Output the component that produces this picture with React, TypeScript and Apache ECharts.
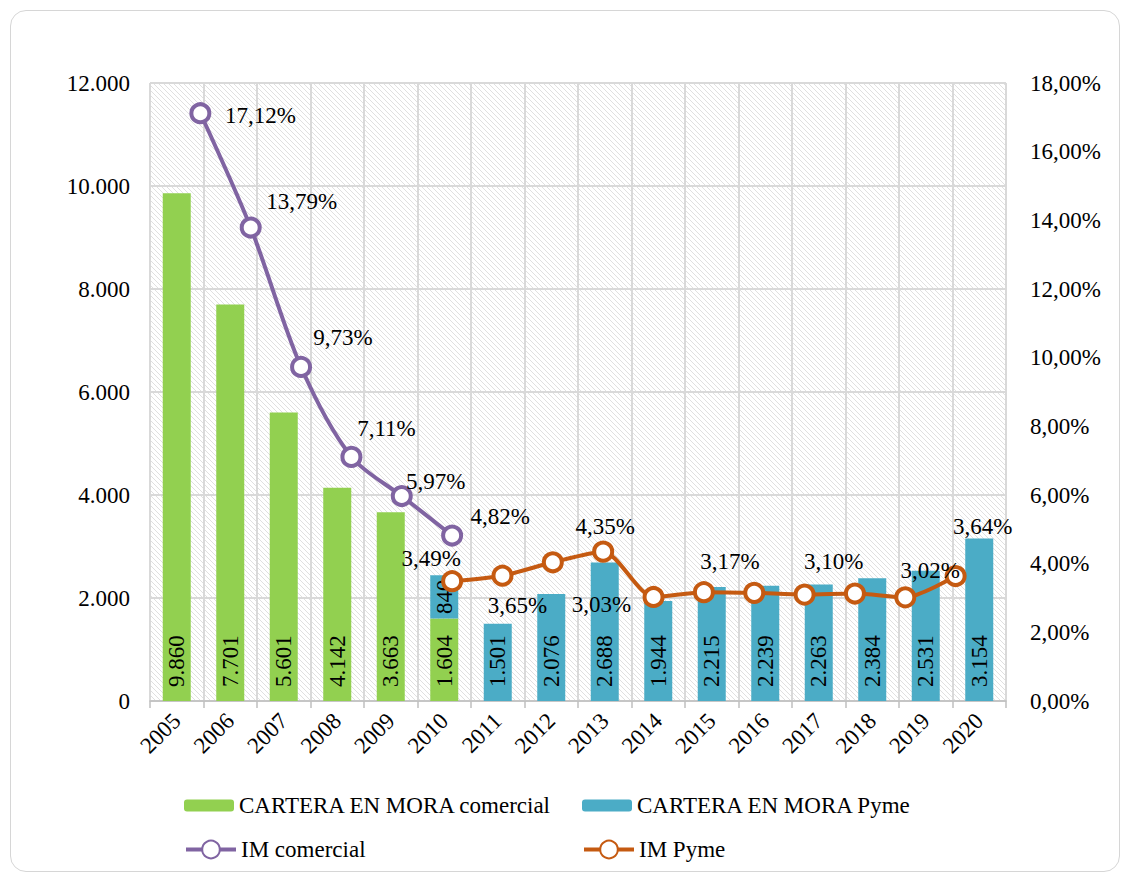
import React, { useEffect, useRef } from "react";
import * as echarts from "echarts";

const years = ["2005", "2006", "2007", "2008", "2009", "2010", "2011", "2012", "2013", "2014", "2015", "2016", "2017", "2018", "2019", "2020"];
const carteraComercial: (number | null)[] = [9860, 7701, 5601, 4142, 3663, 1604, null, null, null, null, null, null, null, null, null, null];
const carteraPyme: (number | null)[] = [null, null, null, null, null, 840, 1501, 2076, 2688, 1944, 2215, 2239, 2263, 2384, 2531, 3154];
const imComercial: (number | null)[] = [17.12, 13.79, 9.73, 7.11, 5.97, 4.82, null, null, null, null, null, null, null, null, null, null];
const imPyme: (number | null)[] = [null, null, null, null, null, 3.49, 3.65, 4.04, 4.35, 3.03, 3.17, 3.15, 3.1, 3.13, 3.02, 3.64];

const leftAxis = { min: 0, max: 12000, interval: 2000 };
const rightAxis = { min: 0, max: 18, interval: 2 };

// label placement (style only)
const comercialLabelOffsets: ([number, number] | null)[] = [[60, 2], [51, -26], [42, -29], [35, -28], [34, -15], [48, -19]];
const pymeLabelOffsets: Record<number, [number, number] | null> = {
  5: [-21, -23], 6: [15, 30], 7: null, 8: [2, -25], 9: [-52, 8], 10: [26, -31],
  11: null, 12: [29, -33], 13: null, 14: [25, -27], 15: [27, -50],
};

const GREEN = "#92d050";
const BLUE = "#4bacc6";
const PURPLE = "#8064a2";
const ORANGE = "#c55a11";
const FONT = "'Liberation Serif', 'Times New Roman', serif";
const FS = 23;

const thousands = (v: number) => String(v).replace(/\B(?=(\d{3})+(?!\d))/g, ".");
const pct = (v: number) => v.toFixed(2).replace(".", ",") + "%";

function makePattern() {
  const s = 5;
  const c = document.createElement("canvas");
  c.width = s;
  c.height = s;
  const ctx = c.getContext("2d")!;
  ctx.fillStyle = "#ffffff";
  ctx.fillRect(0, 0, s, s);
  ctx.strokeStyle = "#e0e0e0";
  ctx.lineWidth = 1;
  ctx.beginPath();
  ctx.moveTo(-1, -1);
  ctx.lineTo(s + 1, s + 1);
  ctx.moveTo(s - 1, -1);
  ctx.lineTo(s + 1, 1);
  ctx.moveTo(-1, s - 1);
  ctx.lineTo(1, s + 1);
  ctx.stroke();
  return { image: c, repeat: "repeat", imageWidth: s, imageHeight: s } as any;
}

export default function App() {
  const ref = useRef<HTMLDivElement>(null);
  useEffect(() => {
    if (!ref.current) return;
    const chart = echarts.init(ref.current, null, { renderer: "svg" });

    const barLabel = {
      show: true,
      position: "insideBottom",
      distance: 14,
      rotate: 90,
      align: "left",
      verticalAlign: "middle",
      fontFamily: FONT,
      fontSize: FS,
      color: "#000",
      formatter: (p: any) => thousands(p.value),
    };

    const comercialBars = carteraComercial.map((v) => (v == null ? null : { value: v }));
    const pymeBars = carteraPyme.map((v, i) => {
      if (v == null) return null;
      if (carteraComercial[i] != null) {
        return { value: v, label: { position: "inside", align: "center", verticalAlign: "middle" } };
      }
      return { value: v };
    });

    const lineData = (arr: (number | null)[], offsets: (i: number) => [number, number] | null) =>
      arr
        .map((v, i) => {
          if (v == null) return null;
          const off = offsets(i);
          return {
            value: [i, v],
            label: off ? { show: true, offset: off } : { show: false },
          };
        })
        .filter((d) => d != null);

    const lineLabel = {
      show: true,
      position: "inside",
      fontFamily: FONT,
      fontSize: FS,
      color: "#000",
      formatter: (p: any) => pct(p.value[1]),
    };

    const legendBase = {
      orient: "horizontal",
      padding: 0,
      selectedMode: false,
      textStyle: { fontFamily: FONT, fontSize: FS, color: "#000" },
    };

    chart.setOption({
      animation: false,
      textStyle: { fontFamily: FONT },
      grid: {
        left: 150,
        right: 119,
        top: 83,
        bottom: 174,
        show: true,
        backgroundColor: makePattern(),
        borderColor: "#d9d9d9",
        borderWidth: 1,
      },
      legend: [
        { ...legendBase, data: ["CARTERA EN MORA comercial"], left: 184, top: 794, itemWidth: 50, itemHeight: 12 },
        { ...legendBase, data: ["CARTERA EN MORA Pyme"], left: 582, top: 794, itemWidth: 50, itemHeight: 12 },
        { ...legendBase, data: ["IM comercial"], left: 184, top: 838, itemWidth: 50, itemHeight: 22, lineStyle: { width: 4 } },
        { ...legendBase, data: ["IM Pyme"], left: 582, top: 838, itemWidth: 50, itemHeight: 22, lineStyle: { width: 4 } },
      ],
      xAxis: [
        {
          type: "category",
          data: years,
          boundaryGap: true,
          axisLine: { show: true, lineStyle: { color: "#bfbfbf", width: 1.5 } },
          axisTick: { show: true, length: 7, lineStyle: { color: "#bfbfbf", width: 1.5 } },
          axisLabel: { rotate: 45, margin: 16, fontFamily: FONT, fontSize: FS, color: "#000", interval: 0 },
          splitLine: { show: true, interval: 0, lineStyle: { color: "#d9d9d9", width: 2 } },
        },
        {
          type: "value",
          min: -1,
          max: 16,
          show: false,
          splitLine: { show: false },
        },
      ],
      yAxis: [
        {
          type: "value",
          ...leftAxis,
          axisLine: { show: false },
          axisTick: { show: false },
          axisLabel: { margin: 20, fontFamily: FONT, fontSize: FS, color: "#000", formatter: (v: number) => thousands(v) },
          splitLine: { show: true, lineStyle: { color: "#d9d9d9", width: 2 } },
        },
        {
          type: "value",
          position: "right",
          ...rightAxis,
          axisLine: { show: false },
          axisTick: { show: false },
          axisLabel: { margin: 24, fontFamily: FONT, fontSize: FS, color: "#000", formatter: (v: number) => pct(v) },
          splitLine: { show: false },
        },
      ],
      series: [
        {
          name: "CARTERA EN MORA comercial",
          type: "bar",
          stack: "cartera",
          xAxisIndex: 0,
          yAxisIndex: 0,
          barWidth: 28,
          itemStyle: { color: GREEN },
          label: barLabel,
          data: comercialBars,
          z: 2,
        },
        {
          name: "CARTERA EN MORA Pyme",
          type: "bar",
          stack: "cartera",
          xAxisIndex: 0,
          yAxisIndex: 0,
          barWidth: 28,
          itemStyle: { color: BLUE },
          label: barLabel,
          data: pymeBars,
          z: 2,
        },
        {
          name: "IM comercial",
          type: "line",
          xAxisIndex: 1,
          yAxisIndex: 1,
          smooth: 0.3,
          symbol: "circle",
          symbolSize: 18,
          lineStyle: { color: PURPLE, width: 4 },
          itemStyle: { color: "#ffffff", borderColor: PURPLE, borderWidth: 4 },
          label: lineLabel,
          data: lineData(imComercial, (i) => comercialLabelOffsets[i] ?? null),
          z: 5,
        },
        {
          name: "IM Pyme",
          type: "line",
          xAxisIndex: 1,
          yAxisIndex: 1,
          smooth: 0.25,
          symbol: "circle",
          symbolSize: 18,
          lineStyle: { color: ORANGE, width: 4 },
          itemStyle: { color: "#ffffff", borderColor: ORANGE, borderWidth: 4 },
          label: lineLabel,
          data: lineData(imPyme, (i) => pymeLabelOffsets[i] ?? null),
          z: 5,
        },
      ],
    });
    return () => chart.dispose();
  }, []);

  return (
    <div style={{ position: "fixed", left: 0, top: 0, width: 1125, height: 875, background: "#fff", overflow: "hidden" }}>
      <div
        style={{
          position: "absolute",
          left: 10,
          top: 10,
          width: 1110,
          height: 862,
          border: "1.5px solid #d6d6d6",
          borderRadius: 16,
          boxSizing: "border-box",
        }}
      />
      <div ref={ref} style={{ position: "absolute", left: 0, top: 0, width: 1125, height: 875 }} />
    </div>
  );
}
